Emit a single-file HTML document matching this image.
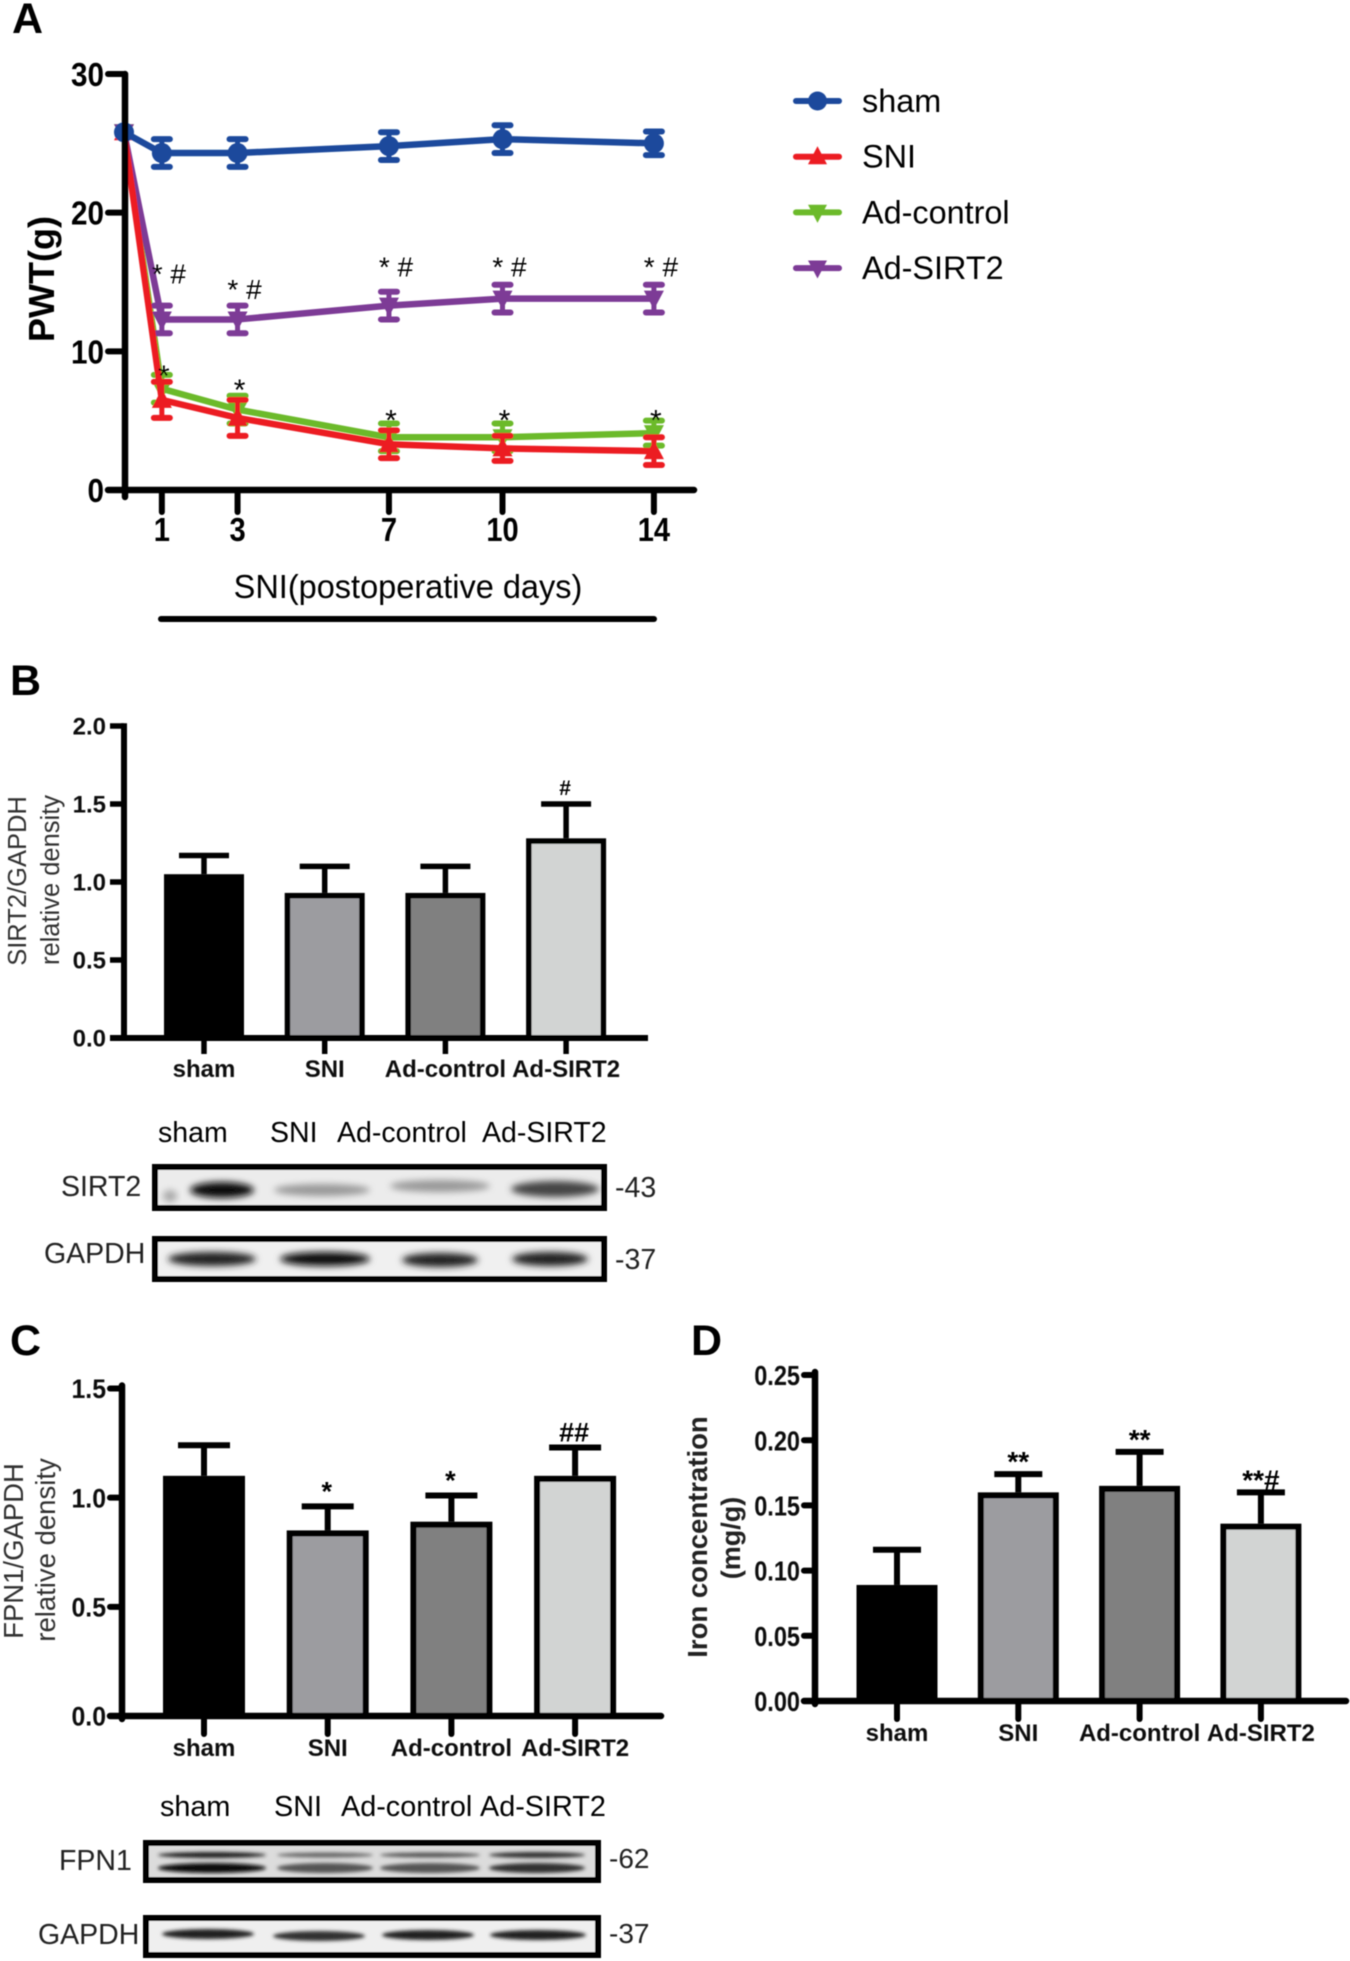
<!DOCTYPE html>
<html lang="en">
<head>
<meta charset="utf-8">
<title>SIRT2 figure panels A-D</title>
<style>
html,body{margin:0;padding:0;background:#fff;}
svg{display:block;}
text{font-family:"Liberation Sans",Arial,sans-serif;}
</style>
</head>
<body>
<svg id="fig" xmlns="http://www.w3.org/2000/svg" width="1350" height="1961" viewBox="0 0 1350 1961">
  <defs>
    <filter id="soft" x="-2%" y="-2%" width="104%" height="104%"><feGaussianBlur stdDeviation="0.5"/></filter>
    <filter id="band" x="-30%" y="-100%" width="160%" height="300%"><feGaussianBlur stdDeviation="3.5"/></filter>
    <filter id="bandthin" x="-30%" y="-100%" width="160%" height="300%"><feGaussianBlur stdDeviation="1.8"/></filter>
  </defs>
  <rect width="1350" height="1961" fill="#fff"/>
  <g id="root" filter="url(#soft)">
    <text x="12" y="33" font-size="43" font-weight="700">A</text>
    <text x="10" y="695" font-size="43" font-weight="700">B</text>
    <text x="10" y="1355" font-size="43" font-weight="700">C</text>
    <text x="691" y="1355" font-size="43" font-weight="700">D</text>

    <g id="panelA"></g>
    <g id="legend"></g>
    <g id="panelB"></g>
    <g id="panelC"></g>
    <g id="panelD"></g>

    <g>
      <text x="158" y="1142" font-size="28.5">sham</text>
      <text x="270" y="1142" font-size="28.5">SNI</text>
      <text x="337" y="1142" font-size="28.5">Ad-control</text>
      <text x="482" y="1142" font-size="28.5">Ad-SIRT2</text>
      <text x="61" y="1196" font-size="28.5" fill="#222">SIRT2</text>
      <text x="44" y="1263" font-size="28.5" fill="#222">GAPDH</text>
      <text x="615" y="1197" font-size="28.5" fill="#222">-43</text>
      <text x="615" y="1269" font-size="28.5" fill="#222">-37</text>
      <g>
        <rect x="155" y="1167" width="449" height="41" fill="#ececec"/>
        <ellipse cx="222" cy="1190" rx="32" ry="8" fill="#111" filter="url(#band)"/>
        <ellipse cx="170" cy="1196" rx="7" ry="6" fill="#aaa" filter="url(#band)"/>
        <ellipse cx="322" cy="1190" rx="48" ry="6" fill="#999" filter="url(#band)"/>
        <ellipse cx="440" cy="1186" rx="50" ry="6" fill="#999" filter="url(#band)"/>
        <ellipse cx="555" cy="1189" rx="44" ry="8" fill="#444" filter="url(#band)"/>
        <rect x="155" y="1167" width="449" height="41" fill="none" stroke="#000" stroke-width="6"/>
      </g>
      <g>
        <rect x="155" y="1239" width="449" height="40" fill="#f0f0f0"/>
        <ellipse cx="212" cy="1259" rx="44" ry="7" fill="#222" filter="url(#band)"/>
        <ellipse cx="325" cy="1259" rx="45" ry="7" fill="#111" filter="url(#band)"/>
        <ellipse cx="440" cy="1260" rx="38" ry="7" fill="#222" filter="url(#band)"/>
        <ellipse cx="550" cy="1259" rx="38" ry="7" fill="#222" filter="url(#band)"/>
        <rect x="155" y="1239" width="449" height="40" fill="none" stroke="#000" stroke-width="6"/>
      </g>
    </g>

    <g>
      <text x="160" y="1816" font-size="28.8">sham</text>
      <text x="274" y="1816" font-size="28.8">SNI</text>
      <text x="341" y="1816" font-size="28.8">Ad-control</text>
      <text x="480" y="1816" font-size="28.8">Ad-SIRT2</text>
      <text x="59" y="1870" font-size="28.5" fill="#222">FPN1</text>
      <text x="38" y="1944" font-size="28.5" fill="#222">GAPDH</text>
      <text x="609" y="1868" font-size="28" fill="#222">-62</text>
      <text x="609" y="1943" font-size="28" fill="#222">-37</text>
      <g>
        <rect x="146" y="1843" width="452" height="37" fill="#dcdcdc"/>
        <ellipse cx="212" cy="1855" rx="54" ry="3" fill="#222" filter="url(#bandthin)"/>
        <ellipse cx="212" cy="1868" rx="54" ry="5" fill="#111" filter="url(#bandthin)"/>
        <ellipse cx="325" cy="1855" rx="48" ry="2.5" fill="#666" filter="url(#bandthin)"/>
        <ellipse cx="325" cy="1868" rx="48" ry="5" fill="#555" filter="url(#bandthin)"/>
        <ellipse cx="430" cy="1855" rx="50" ry="2.5" fill="#555" filter="url(#bandthin)"/>
        <ellipse cx="430" cy="1868" rx="50" ry="5" fill="#555" filter="url(#bandthin)"/>
        <ellipse cx="537" cy="1855" rx="48" ry="3" fill="#333" filter="url(#bandthin)"/>
        <ellipse cx="537" cy="1868" rx="48" ry="5" fill="#333" filter="url(#bandthin)"/>
        <rect x="146" y="1843" width="452" height="37" fill="none" stroke="#000" stroke-width="6"/>
      </g>
      <g>
        <rect x="146" y="1918" width="452" height="37" fill="#efefef"/>
        <ellipse cx="208" cy="1934" rx="46" ry="5" fill="#222" filter="url(#bandthin)"/>
        <ellipse cx="319" cy="1936" rx="46" ry="5" fill="#333" filter="url(#bandthin)"/>
        <ellipse cx="428" cy="1935" rx="46" ry="5" fill="#222" filter="url(#bandthin)"/>
        <ellipse cx="538" cy="1935" rx="48" ry="5" fill="#222" filter="url(#bandthin)"/>
        <rect x="146" y="1918" width="452" height="37" fill="none" stroke="#000" stroke-width="6"/>
      </g>
    </g>
  </g>
</svg>

<script>
// Panel A data
const aDays = [0, 1, 3, 7, 10, 14];
const aTickDays = [1, 3, 7, 10, 14];
const aYTicks = [0, 10, 20, 30];
const seriesNames = ['sham', 'SNI', 'Ad-control', 'Ad-SIRT2'];
const shamValues = [25.8, 24.3, 24.3, 24.8, 25.3, 25.0];
const shamErrors = [0, 1.0, 1.0, 1.0, 1.0, 0.85];
const sniValues = [25.8, 6.5, 5.2, 3.3, 3.0, 2.8];
const sniErrors = [0, 1.3, 1.3, 1.0, 0.9, 1.0];
const controlValues = [25.8, 7.3, 5.8, 3.8, 3.8, 4.1];
const controlErrors = [0, 1.0, 1.0, 1.0, 1.0, 0.9];
const sirt2Values = [25.8, 12.3, 12.3, 13.3, 13.8, 13.8];
const sirt2Errors = [0, 1.0, 1.0, 1.0, 1.0, 1.0];
const aStarLevels = [8.5, 7.5, 5.3, 5.3, 5.3];
const aHashLevels = [15.6, 14.5, 16.1, 16.1, 16.1];

// Bar panels data
const barCategories = ['sham', 'SNI', 'Ad-control', 'Ad-SIRT2'];
const bValues = [1.05, 0.93, 0.93, 1.28];
const bErrorTops = [1.17, 1.10, 1.10, 1.50];
const bNotes = ['', '', '', '#'];
const bTicks = ['0.0', '0.5', '1.0', '1.5', '2.0'];
const cValues = [1.10, 0.85, 0.89, 1.10];
const cErrorTops = [1.24, 0.96, 1.01, 1.23];
const cNotes = ['', '*', '*', '##'];
const cTicks = ['0.0', '0.5', '1.0', '1.5'];
const dValues = [0.089, 0.160, 0.165, 0.136];
const dErrorTops = [0.116, 0.174, 0.191, 0.160];
const dNotes = ['', '**', '**', '**#'];
const dTicks = ['0.00', '0.05', '0.10', '0.15', '0.20', '0.25'];

const barFills = { sham: '#050303', SNI: '#9c9ca0', 'Ad-control': '#808080', 'Ad-SIRT2': '#d2d4d3' };
const seriesColors = { sham: '#1c4a9c', SNI: '#ec1c24', 'Ad-control': '#6cba2c', 'Ad-SIRT2': '#7d3a96' };

const NS = 'http://www.w3.org/2000/svg';

function make(parent, tag, name, attrs) {
  const el = document.createElementNS(NS, tag);
  
  
  for (const k in attrs) el.setAttribute(k, attrs[k]);
  parent.appendChild(el);
  return el;
}
function seg(parent, name, x1, y1, x2, y2, color, w, cap) {
  return make(parent, 'line', name, { x1, y1, x2, y2, stroke: color, 'stroke-width': w, 'stroke-linecap': cap || 'butt' });
}
function label(parent, name, str, x, y, size, opt) {
  opt = opt || {};
  const attrs = { x, y, 'font-size': size, 'text-anchor': opt.anchor || 'middle', 'font-weight': opt.weight || 400, fill: opt.fill || '#000' };
  if (opt.rot) attrs.transform = 'rotate(-90 ' + x + ' ' + y + ')';
  const el = make(parent, 'text', name, attrs);
  el.textContent = str;
  if (opt.squeeze) {
    const len = el.getComputedTextLength();
    el.setAttribute('textLength', (len * opt.squeeze).toFixed(1));
    el.setAttribute('lengthAdjust', 'spacingAndGlyphs');
  }
  return el;
}

/* ---------- Panel A ---------- */
const gA = document.getElementById('panelA');
const ax = d => 124 + d * 37.85;
const ay = v => 490 - v * (490 - 74) / 30;

const aSeries = [
  { name: 'Ad-control', values: controlValues, errors: controlErrors, marker: 'down' },
  { name: 'Ad-SIRT2', values: sirt2Values, errors: sirt2Errors, marker: 'down' },
  { name: 'SNI', values: sniValues, errors: sniErrors, marker: 'up' },
  { name: 'sham', values: shamValues, errors: shamErrors, marker: 'circle' }
];

function marker(parent, name, kind, x, y, color, r) {
  if (kind === 'circle') {
    return make(parent, 'circle', name, { cx: x, cy: y, r, fill: color });
  }
  const dir = kind === 'up' ? 1 : -1;
  const pts = [x + ',' + (y - dir * r * 1.1), (x - r) + ',' + (y + dir * r * 0.8), (x + r) + ',' + (y + dir * r * 0.8)].join(' ');
  return make(parent, 'polygon', name, { points: pts, fill: color });
}

aSeries.forEach(s => {
  const color = seriesColors[s.name];
  const slug = s.name.toLowerCase();
  const g = make(gA, 'g', 'series-' + slug, {});
  const pts = aDays.map((d, i) => ax(d) + ',' + ay(s.values[i])).join(' ');
  make(g, 'polyline', 'line-' + slug, { points: pts, fill: 'none', stroke: color, 'stroke-width': 6.5, 'stroke-linejoin': 'round' });
  aDays.forEach((d, i) => {
    const x = ax(d), v = s.values[i], e = s.errors[i];
    if (e > 0) {
      seg(g, 'error-bar-' + slug + '-day-' + d, x, ay(v + e), x, ay(v - e), color, 5);
      seg(g, 'error-cap-high-' + slug + '-day-' + d, x - 8, ay(v + e), x + 8, ay(v + e), color, 6, 'round');
      seg(g, 'error-cap-low-' + slug + '-day-' + d, x - 8, ay(v - e), x + 8, ay(v - e), color, 6, 'round');
    }
    marker(g, 'point-' + slug + '-day-' + d, s.marker, x, ay(v), color, 10);
  });
});

// axes
const aAxes = make(gA, 'g', 'panel-a-axes', {});
seg(aAxes, 'y-axis', 125, ay(30), 125, 497, '#000', 6.5, 'round');
seg(aAxes, 'x-axis', 108, ay(0), 694, ay(0), '#000', 6.5, 'round');
aYTicks.forEach(v => {
  seg(aAxes, 'y-tick-' + v, 108, ay(v), 125, ay(v), '#000', 6, 'round');
  label(aAxes, 'y-tick-label-' + v, String(v), 104, ay(v) + 12, 33, { anchor: 'end', weight: 700, squeeze: 0.9 });
});
aTickDays.forEach(d => {
  seg(aAxes, 'x-tick-' + d, ax(d), ay(0), ax(d), 512, '#000', 6, 'round');
  label(aAxes, 'x-tick-label-' + d, String(d), ax(d), 541, 33, { weight: 700, squeeze: 0.88 });
});
label(aAxes, 'y-axis-title', 'PWT(g)', 54, 279, 36, { rot: true, weight: 700 });
label(aAxes, 'x-axis-title', 'SNI(postoperative days)', 408, 598, 33, { squeeze: 0.985 });
seg(aAxes, 'x-axis-range-bar', 161, 619, 654, 619, '#000', 6, 'round');

// significance marks
aTickDays.forEach((d, i) => {
  label(gA, 'significance-star-day-' + d, '*', ax(d) + 2, ay(aStarLevels[i]) + 14, 30);
  label(gA, 'significance-hash-day-' + d, '* #', ax(d) + 7, ay(aHashLevels[i]) + 10, 28);
});

/* ---------- Legend ---------- */
const gL = document.getElementById('legend');
const legendMarkers = { sham: 'circle', SNI: 'up', 'Ad-control': 'down', 'Ad-SIRT2': 'down' };
seriesNames.forEach((name, i) => {
  const y = 101 + i * 55.7;
  const slug = name.toLowerCase();
  const c = seriesColors[name];
  seg(gL, 'legend-line-' + slug, 796, y, 839, y, c, 6, 'round');
  marker(gL, 'legend-marker-' + slug, legendMarkers[name], 817.5, y, c, 9.5);
  label(gL, 'legend-label-' + slug, name, 862, y + 11, 32.4, { anchor: 'start' });
});

/* ---------- Bar panels ---------- */
function barPanel(p) {
  const g = document.getElementById(p.id);
  const y = v => p.y0 - v * (p.y0 - p.yTop) / p.max;
  const xc = i => p.x0 + i * p.step;
  barCategories.forEach((cat, i) => {
    const slug = cat.toLowerCase();
    const v = p.values[i], top = p.tops[i], x = xc(i);
    seg(g, 'error-bar-' + slug, x, y(v), x, y(top), '#000', p.sw);
    seg(g, 'error-cap-' + slug, x - p.cap, y(top), x + p.cap, y(top), '#000', p.sw);
    const inset = p.sw / 2;
    make(g, 'rect', 'bar-' + slug, {
      x: x - p.bw / 2 + inset, y: y(v) + inset,
      width: p.bw - p.sw, height: y(0) - y(v) - inset,
      fill: barFills[cat], stroke: '#000', 'stroke-width': p.sw
    });
    seg(g, 'x-tick-' + slug, x, y(0), x, y(0) + p.tickLen, '#000', p.sw, p.round ? 'round' : 'butt');
    label(g, 'x-label-' + slug, cat, x, p.labelY, p.labelSize, { weight: 700, fill: '#111' });
    if (p.notes[i]) {
      label(g, 'significance-' + slug, p.notes[i], x + (p.noteDx || 0), y(top) - p.noteGap, p.noteSize, { weight: 700 });
    }
  });
  seg(g, 'y-axis', p.xAxis, p.yTop - p.sw / 2, p.xAxis, y(0) + (p.round ? 3 : 0), '#000', p.sw + 0.5, p.round ? 'round' : 'butt');
  seg(g, 'x-axis', p.xLeft, y(0), p.xRight, y(0), '#000', p.sw + 0.5, p.round ? 'round' : 'butt');
  p.ticks.forEach(t => {
    const v = parseFloat(t);
    seg(g, 'y-tick-' + t, p.xLeft, y(v), p.xAxis, y(v), '#000', p.sw, p.round ? 'round' : 'butt');
    label(g, 'y-tick-label-' + t, t, p.xLeft - 4, y(v) + p.tickSize * 0.36, p.tickSize, { anchor: 'end', weight: 700, squeeze: p.tickSqueeze, fill: '#111' });
  });
  p.titles.forEach(t => {
    label(g, t.name, t.text, t.x, t.y, t.size, { rot: true, weight: t.weight || 400, fill: t.fill || '#333', squeeze: t.squeeze });
  });
}

barPanel({
  id: 'panelB', values: bValues, tops: bErrorTops, notes: bNotes, ticks: bTicks, max: 2,
  y0: 1038, yTop: 726, x0: 204, step: 120.7, bw: 80, sw: 5.5, cap: 25, tickLen: 16,
  xAxis: 124, xLeft: 110, xRight: 648, labelY: 1077, labelSize: 24,
  tickSize: 24, tickSqueeze: 1, noteGap: 9, noteSize: 21, noteDx: -1,
  titles: [
    { name: 'y-axis-title-line-1', text: 'SIRT2/GAPDH', x: 26, y: 881, size: 25.5 },
    { name: 'y-axis-title-line-2', text: 'relative density', x: 59, y: 880, size: 25.5 }
  ]
});
barPanel({
  id: 'panelC', values: cValues, tops: cErrorTops, notes: cNotes, ticks: cTicks, max: 1.5,
  y0: 1716, yTop: 1388.5, x0: 204, step: 123.7, bw: 82, sw: 6, cap: 26, tickLen: 18, round: true,
  xAxis: 122, xLeft: 110, xRight: 661, labelY: 1756, labelSize: 24,
  tickSize: 27, tickSqueeze: 0.92, noteGap: 6, noteSize: 27, noteDx: -1,
  titles: [
    { name: 'y-axis-title-line-1', text: 'FPN1/GAPDH', x: 23, y: 1551, size: 27.5 },
    { name: 'y-axis-title-line-2', text: 'relative density', x: 55, y: 1550, size: 27.5 }
  ]
});
barPanel({
  id: 'panelD', values: dValues, tops: dErrorTops, notes: dNotes, ticks: dTicks, max: 0.25,
  y0: 1701, yTop: 1375, x0: 897, step: 121.3, bw: 81, sw: 6, cap: 24, tickLen: 18, round: true,
  xAxis: 815, xLeft: 804, xRight: 1346, labelY: 1741, labelSize: 24,
  tickSize: 28, tickSqueeze: 0.84, noteGap: 3, noteSize: 28, noteDx: 0,
  titles: [
    { name: 'y-axis-title-line-1', text: 'Iron concentration', x: 707, y: 1537, size: 27.5, weight: 700, fill: '#222' },
    { name: 'y-axis-title-line-2', text: '(mg/g)', x: 740, y: 1538, size: 27, weight: 700, fill: '#222' }
  ]
});
</script>
</body>
</html>
